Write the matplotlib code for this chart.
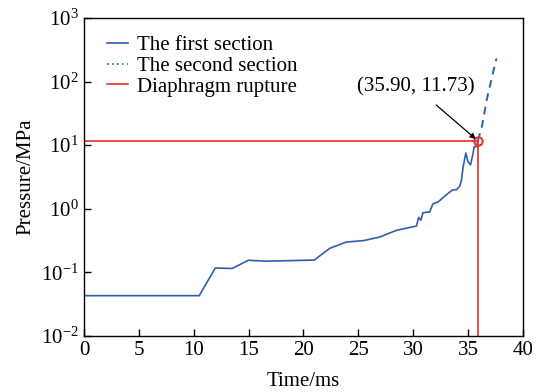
import numpy as np
import matplotlib
matplotlib.use('Agg')
import matplotlib.pyplot as plt
from matplotlib.lines import Line2D
from matplotlib.ticker import NullLocator, LogLocator

# 01 Data
FirstTime = [0.0, 10.5, 11.96, 13.5, 14.97, 16.5, 20.98, 22.4, 23.9, 25.45, 26.97, 28.5,
             30.3, 30.5, 30.7, 30.9, 31.5, 31.8, 32.3, 33.0, 33.6, 33.96, 34.26, 34.4,
             34.56, 34.8, 35.0, 35.23, 35.47, 35.56, 35.78, 35.9]
FirstPressure = [0.043, 0.043, 0.117, 0.115, 0.155, 0.150, 0.156, 0.239, 0.30, 0.315, 0.36, 0.46,
                 0.535, 0.73, 0.66, 0.87, 0.89, 1.19, 1.29, 1.65, 1.98, 2.0, 2.3, 2.8,
                 4.6, 7.5, 5.5, 4.9, 7.5, 9.5, 9.5, 11.73]
SecondTime = [35.9, 36.24, 36.7, 37.3, 37.6]
SecondPressure = [11.73, 18.5, 51.0, 143.0, 232.0]
RuptureTime = 35.90
RupturePressure = 11.73

Blue = '#2f5fad'
Red = '#e8302c'

plt.rcParams['font.family'] = ['Liberation Serif']
plt.rcParams['mathtext.fontset'] = 'stix'
plt.rc('font', size=15)

Figure, Axes = plt.subplots(1, 1, figsize=(5.39, 3.92), dpi=100)
Figure.subplots_adjust(left=0.156, right=0.970, top=0.954, bottom=0.143)

Axes.plot(FirstTime, FirstPressure, color=Blue, linewidth=1.2)
Axes.plot(SecondTime, SecondPressure, color=Blue, linewidth=1.4, linestyle=(0, (4, 3)))
Axes.plot([0, RuptureTime], [RupturePressure, RupturePressure], color=Red, linewidth=1.2)
Axes.plot([RuptureTime, RuptureTime], [1e-2, RupturePressure], color=Red, linewidth=1.2)
Axes.plot([RuptureTime], [RupturePressure], marker='o', markersize=6, markerfacecolor='none',
          markeredgecolor=Red, markeredgewidth=1.5)

Axes.annotate('(%.2f, %.2f)' % (RuptureTime, RupturePressure), xy=(RuptureTime, RupturePressure),
              xytext=(30.2, 82), ha='center', va='center', fontsize=15,
              arrowprops=dict(arrowstyle='-|>', color='black', lw=0.9, mutation_scale=8,
                              shrinkA=6, shrinkB=2))

Axes.set_yscale('log')
Axes.set_xlim([0, 40])
Axes.set_ylim([1e-2, 1e3])
Axes.set_xticks(np.arange(0, 41, 5))
Axes.yaxis.set_major_locator(LogLocator(base=10, numticks=10))
Axes.yaxis.set_minor_locator(NullLocator())
Axes.tick_params(direction='in', length=5, width=1, top=False, right=False, pad=4)
Axes.set_xlabel('Time/ms', labelpad=8)
Axes.set_ylabel('Pressure/MPa', labelpad=4)
for Spine in Axes.spines.values():
    Spine.set_linewidth(1.0)

Handles = [Line2D([], [], color=Blue, linewidth=1.2),
           Line2D([], [], color=Blue, linewidth=1.2, linestyle=(0, (1, 2))),
           Line2D([], [], color=Red, linewidth=1.2)]
Labels = ['The first section', 'The second section', 'Diaphragm rupture']
Axes.legend(Handles, Labels, loc='upper left', frameon=False, handlelength=1.0,
            handletextpad=0.4, labelspacing=0.05, borderaxespad=0.3, bbox_to_anchor=(0.02, 0.99))

Figure.savefig('out.png', dpi=100)
